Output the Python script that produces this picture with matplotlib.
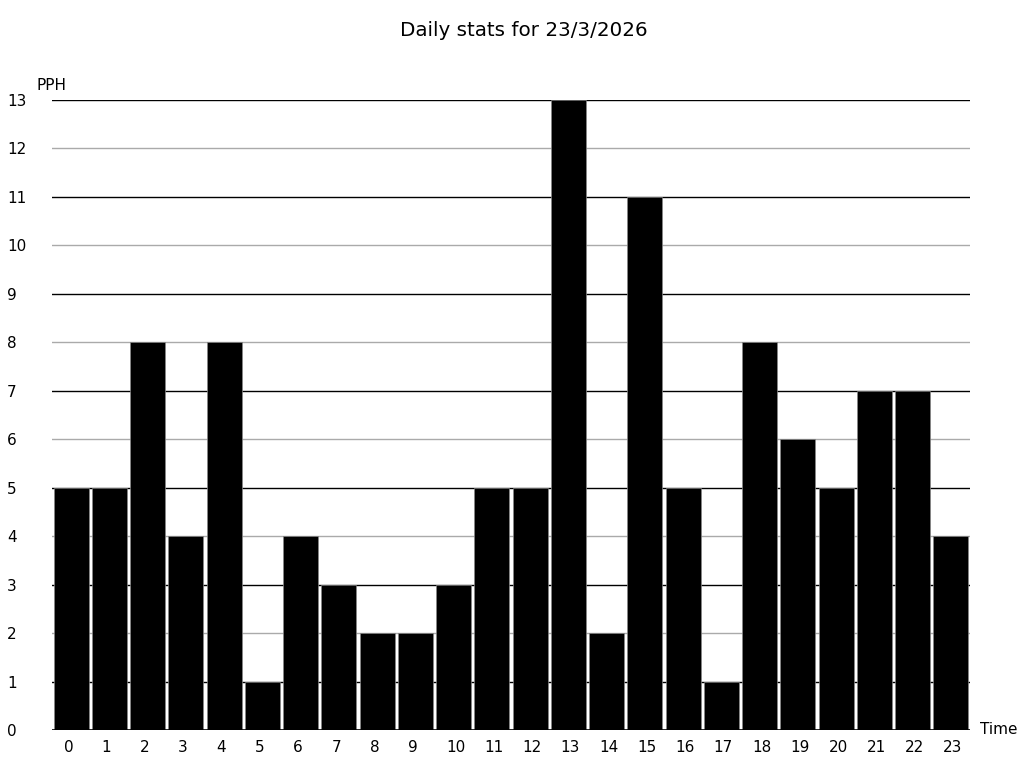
import numpy as np
import matplotlib.pyplot as plt
import matplotlib.transforms as mtransforms

hours = list(range(24))
pph = [5, 5, 8, 4, 8, 1, 4, 3, 2, 2, 3, 5, 5, 13, 2, 11, 5, 1, 8, 6, 5, 7, 7, 4]
y_ticks = list(range(14))

fig = plt.figure(figsize=(10.24, 7.68), dpi=100)
ax = fig.add_axes([52/1024, 38/768, 918/1024, 630/768])

# alternating grid lines: odd values dark, even values light
for v in y_ticks[1:]:
    col = 'black' if v % 2 == 1 else '#aaaaaa'
    ax.axhline(v, color=col, lw=1, zorder=0)

ax.bar(hours, pph, width=0.91, color='black', edgecolor='#888888', linewidth=0.5, zorder=2)
ax.axhline(0, color='black', lw=1.2, zorder=3)

ax.set_xlim(-0.5, 23.5)
ax.set_ylim(0, 13)
ax.set_xticks(hours)
ax.set_yticks(y_ticks)
ax.tick_params(axis='both', length=0, labelsize=11)
ax.tick_params(axis='y', pad=32.4)
ax.tick_params(axis='x', pad=7)
for lab in ax.get_yticklabels():
    lab.set_horizontalalignment('left')
# x labels start a little left of the bar centre
shift = mtransforms.ScaledTranslation(-0.076, 0, fig.dpi_scale_trans)
for lab in ax.get_xticklabels():
    lab.set_horizontalalignment('left')
    lab.set_transform(lab.get_transform() + shift)
for s in ax.spines.values():
    s.set_visible(False)

fig.text(37/1024, 1 - 85/768, 'PPH', fontsize=11, va='center', ha='left')
fig.text(980/1024, 1 - 730/768, 'Time', fontsize=11, va='center', ha='left')
fig.text(524/1024, 1 - 31/768, 'Daily stats for 23/3/2026', fontsize=14.3, ha='center', va='center')

fig.savefig('out.png', dpi=100)
